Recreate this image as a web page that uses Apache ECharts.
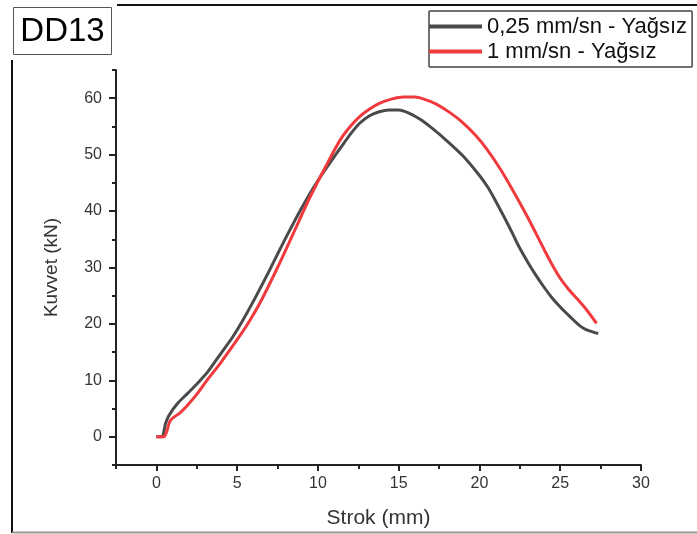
<!DOCTYPE html>
<html>
<head>
<meta charset="utf-8">
<script src="https://cdn.jsdelivr.net/npm/echarts@6/dist/echarts.min.js"></script>
<style>
html,body{margin:0;padding:0;background:#fff;}
#chart{width:697px;height:534px;}
</style>
</head>
<body>
<div id="chart"></div>
<script>
// Series names
var seriesNames = ['0,25 mm/sn - Yağsız', '1 mm/sn - Yağsız'];

// 0,25 mm/sn curve (Strok mm, Kuvvet kN)
var strokSlow = [0, 0.35, 0.5, 0.56, 0.76, 1.28, 1.9, 2.52, 3.2, 4.0, 4.7, 5.3, 6.0, 7.0, 8.0, 9.0, 10.0, 11.0, 11.6, 12.0, 12.6, 13.2, 13.8, 14.4, 15.0, 15.6, 16.3, 17.1, 18.0, 19.0, 20.0, 20.5, 21.0, 21.5, 22.0, 22.5, 23.0, 23.5, 24.0, 24.5, 25.0, 25.6, 26.2, 26.6, 27.0, 27.35];
var kuvvetSlow = [0, 0, 1.5, 2.3, 3.7, 5.8, 7.6, 9.4, 11.6, 14.8, 17.6, 20.4, 24.0, 29.5, 35.2, 40.6, 45.4, 49.6, 52.0, 53.6, 55.6, 56.9, 57.6, 57.9, 57.9, 57.4, 56.3, 54.6, 52.4, 49.7, 46.3, 44.3, 41.8, 39.1, 36.3, 33.4, 30.9, 28.6, 26.5, 24.6, 23.0, 21.3, 19.7, 19.0, 18.6, 18.3];

// 1 mm/sn curve
var strokFast = [0, 0.45, 0.6, 0.66, 0.87, 1.48, 1.9, 2.52, 3.13, 4.0, 5.0, 5.7, 6.5, 7.5, 8.5, 9.5, 10.5, 11.4, 12.0, 12.6, 13.2, 13.8, 14.5, 15.3, 16.0, 16.6, 17.3, 18.2, 19.0, 19.8, 20.5, 21.3, 22.0, 22.7, 23.4, 24.0, 24.5, 25.0, 25.5, 26.0, 26.6, 27.25];
var kuvvetFast = [0, 0, 0.6, 1.1, 2.9, 4.3, 5.5, 7.6, 10.0, 13.2, 17.2, 20.2, 24.2, 30.0, 36.2, 42.4, 48.0, 52.7, 55.0, 56.8, 58.1, 59.1, 59.8, 60.2, 60.2, 59.8, 59.0, 57.4, 55.6, 53.3, 50.8, 47.4, 44.0, 40.4, 36.6, 33.2, 30.5, 28.1, 26.2, 24.6, 22.6, 20.1];

// Tick values
var xMajorTicks = [0, 5, 10, 15, 20, 25, 30];
var xMinorTicks = [-2.5, 2.5, 7.5, 12.5, 17.5, 22.5, 27.5];
var yMajorTicks = [0, 10, 20, 30, 40, 50, 60];
var yMinorTicks = [-5, 5, 15, 25, 35, 45, 55, 65];

function pairs(xs, ys) { return xs.map(function (x, i) { return [x, ys[i]]; }); }

var chart = echarts.init(document.getElementById('chart'), null, {renderer: 'canvas'});
var axisColor = '#222';
var labelFont = 'Liberation Sans, Arial, sans-serif';

var option = {
  backgroundColor: '#fff',
  animation: false,
  grid: {left: 116, top: 70, right: 56, bottom: 69},
  legend: {
    orient: 'vertical',
    left: 429, top: 11,
    padding: [3, 5, 3, 0],
    itemGap: 0,
    itemWidth: 53, itemHeight: 4,
    icon: 'rect',
    borderColor: '#444', borderWidth: 1.5, borderRadius: 1,
    textStyle: {fontFamily: labelFont, fontSize: 22, color: '#111', lineHeight: 25},
    data: seriesNames
  },
  xAxis: [{
    type: 'value', min: -2.5, max: 30, interval: 2.5,
    axisLine: {show: true, onZero: false, lineStyle: {color: axisColor, width: 2}},
    axisTick: {show: true, length: 6, customValues: xMajorTicks, lineStyle: {color: axisColor, width: 2}},
    axisLabel: {customValues: xMajorTicks, color: '#333', fontFamily: labelFont, fontSize: 16, margin: 11},
    splitLine: {show: false},
    name: 'Strok (mm)', nameLocation: 'middle', nameGap: 43,
    nameTextStyle: {fontFamily: labelFont, fontSize: 21, color: '#333'}
  }, {
    type: 'value', min: -2.5, max: 30, interval: 2.5, position: 'bottom',
    axisLine: {show: false, onZero: false},
    axisTick: {show: true, length: 4, customValues: xMinorTicks, lineStyle: {color: axisColor, width: 2}},
    axisLabel: {show: false},
    splitLine: {show: false}
  }],
  yAxis: [{
    type: 'value', min: -5, max: 65, interval: 5,
    axisLine: {show: true, onZero: false, lineStyle: {color: axisColor, width: 2}},
    axisTick: {show: true, length: 7, customValues: yMajorTicks, lineStyle: {color: axisColor, width: 2}},
    axisLabel: {customValues: yMajorTicks, color: '#333', fontFamily: labelFont, fontSize: 16, margin: 14},
    splitLine: {show: false},
    name: 'Kuvvet (kN)', nameLocation: 'middle', nameGap: 55,
    nameTextStyle: {fontFamily: labelFont, fontSize: 19, color: '#333'}
  }, {
    type: 'value', min: -5, max: 65, interval: 5, position: 'left',
    axisLine: {show: false, onZero: false},
    axisTick: {show: true, length: 4, customValues: yMinorTicks, lineStyle: {color: axisColor, width: 2}},
    axisLabel: {show: false},
    splitLine: {show: false}
  }],
  series: [{
    name: seriesNames[0], type: 'line', xAxisIndex: 0, yAxisIndex: 0,
    data: pairs(strokSlow, kuvvetSlow),
    showSymbol: false, smooth: 0.3,
    itemStyle: {color: '#4a4a4a'},
    lineStyle: {color: '#4a4a4a', width: 3}
  }, {
    name: seriesNames[1], type: 'line', xAxisIndex: 0, yAxisIndex: 0,
    data: pairs(strokFast, kuvvetFast),
    showSymbol: false, smooth: 0.3,
    itemStyle: {color: '#f03a3e'},
    lineStyle: {color: '#f03a3e', width: 3}
  }],
  graphic: [
    {type: 'line', shape: {x1: 117, y1: 5, x2: 697, y2: 5}, style: {stroke: '#111', lineWidth: 2}},
    {type: 'line', shape: {x1: 12, y1: 60, x2: 12, y2: 533}, style: {stroke: '#111', lineWidth: 2}},
    {type: 'line', shape: {x1: 12, y1: 532.5, x2: 697, y2: 532.5}, style: {stroke: '#999', lineWidth: 2}},
    {type: 'rect', shape: {x: 13.5, y: 7.5, width: 98, height: 47}, style: {fill: '#fff', stroke: '#555', lineWidth: 1}},
    {type: 'text', x: 62.5, y: 31.5, style: {text: 'DD13', fontFamily: labelFont, fontSize: 33, fill: '#000', align: 'center', verticalAlign: 'middle'}}
  ]
};
chart.setOption(option);
</script>
</body>
</html>
